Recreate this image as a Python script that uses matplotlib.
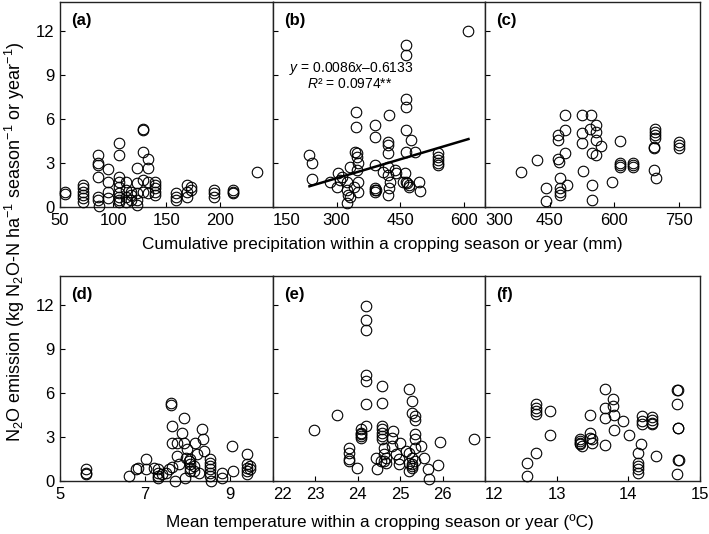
import matplotlib
matplotlib.use("Agg")
import matplotlib.pyplot as plt
import numpy as np

plt.rcParams['font.family'] = ['Liberation Sans', 'DejaVu Sans']
plt.rcParams['mathtext.fontset'] = 'custom'
plt.rcParams['mathtext.rm'] = 'Liberation Sans'
plt.rcParams['mathtext.it'] = 'Liberation Sans:italic'
plt.rcParams['mathtext.bf'] = 'Liberation Sans:bold'

# ---------------- data (x, N2O emission) ----------------
panel_a = [(55, 1.05), (55, 0.9), (72, 1.5), (72, 1.27), (72, 1.05), (72, 0.82), (72, 0.6), (72, 0.36),
           (86, 3.55), (86, 2.98), (86, 2.86), (86, 2.07), (86, 0.7), (86, 0.48), (87, 0.05),
           (95, 2.6), (95, 1.73), (95, 1.05), (95, 0.6),
           (105, 4.34), (105, 3.55), (105, 2.07), (105, 1.73), (105, 1.39), (105, 0.93), (105, 0.7), (105, 0.48), (105, 0.36),
           (112, 1.73), (112, 1.16), (112, 0.7), (112, 0.36), (117, 1.05), (117, 0.82), (117, 0.48),
           (122, 2.64), (122, 1.61), (122, 0.93), (122, 0.48), (122, 0.14),
           (128, 5.36), (128, 5.25), (128, 3.77), (128, 1.84), (128, 1.05),
           (133, 3.3), (133, 2.64), (133, 1.73), (133, 0.93),
           (139, 1.73), (139, 1.5), (139, 1.27), (139, 1.05), (139, 0.82),
           (159, 0.93), (159, 0.7), (159, 0.48), (169, 1.5), (169, 1.05), (169, 0.7), (173, 1.39), (173, 1.16),
           (195, 1.16), (195, 0.93), (195, 0.7), (212, 1.16), (212, 1.05), (212, 0.93), (235, 2.4)]

panel_b = [(236, 3.55), (241, 2.98), (241, 1.89), (284, 1.73), (304, 2.3), (308, 1.84), (300, 1.39), (312, 2.07),
           (324, 1.73), (324, 1.16), (328, 0.82), (332, 0.7), (325, 0.3), (332, 2.75), (346, 6.5), (346, 5.48),
           (343, 3.77), (347, 3.66), (349, 3.43), (351, 2.98), (347, 2.52), (351, 1.73), (351, 1.05), (340, 1.39),
           (391, 5.59), (391, 4.8), (391, 2.86), (391, 1.27), (391, 1.16), (391, 1.05), (394, 1.16),
           (424, 6.27), (422, 4.45), (422, 4.23), (422, 3.66), (422, 2.75), (422, 2.18), (426, 1.73), (424, 1.27),
           (422, 0.82), (438, 2.52), (441, 2.3), (463, 11.05), (463, 10.36), (463, 7.4), (463, 6.84), (463, 5.25),
           (463, 3.77), (461, 2.3), (463, 1.73), (467, 1.61), (471, 1.5), (471, 1.39), (475, 4.57), (486, 3.77),
           (495, 1.73), (497, 1.11), (540, 3.66), (540, 3.43), (540, 3.2), (540, 2.98), (540, 2.86), (611, 12.0),
           (457, 1.73), (410, 2.41)]

panel_c = [(384, 2.41), (420, 3.2), (442, 1.27), (442, 0.43), (470, 4.9), (470, 4.57), (470, 3.25), (471, 3.09),
           (475, 1.95), (475, 1.27), (475, 1.05), (475, 0.82), (487, 6.27), (487, 5.25), (487, 3.66), (491, 1.5),
           (526, 6.27), (526, 5.02), (526, 4.34), (528, 2.48), (546, 6.27), (544, 5.36), (548, 3.66), (548, 1.5),
           (548, 0.48), (558, 5.59), (559, 5.14), (559, 4.57), (559, 3.55), (569, 4.18), (595, 1.73),
           (614, 4.5), (614, 2.98), (614, 2.86), (614, 2.75), (645, 2.98), (645, 2.86), (645, 2.75),
           (696, 5.36), (696, 5.14), (696, 4.9), (696, 4.68), (692, 4.11), (692, 4.0), (692, 2.52), (698, 1.95),
           (751, 4.45), (751, 4.23), (751, 4.0)]

panel_d = [(5.62, 0.8), (5.62, 0.57), (5.62, 0.45), (6.63, 0.34), (6.78, 0.8), (6.82, 0.91), (7.02, 1.48),
           (7.03, 0.8), (7.2, 0.9), (7.29, 0.8), (7.29, 0.57), (7.29, 0.34), (7.29, 0.23), (7.4, 0.45), (7.48, 0.57),
           (7.56, 0.8), (7.6, 5.34), (7.6, 5.18), (7.62, 3.75), (7.64, 2.61), (7.64, 0.95), (7.7, 0.0),
           (7.75, 2.61), (7.75, 1.7), (7.79, 1.14), (7.87, 3.3), (7.9, 4.32), (7.9, 2.61), (7.93, 0.23),
           (7.95, 1.59), (7.98, 2.16), (8.02, 1.36), (8.06, 1.48), (8.06, 1.14), (8.06, 0.91), (8.06, 0.68),
           (8.14, 1.02), (8.14, 0.68), (8.18, 2.61), (8.22, 1.82), (8.26, 0.57), (8.33, 3.52), (8.35, 2.84),
           (8.37, 2.05), (8.53, 1.48), (8.53, 1.25), (8.53, 1.02), (8.53, 0.8), (8.53, 0.57), (8.53, 0.34),
           (8.55, 0.0), (8.8, 0.57), (8.8, 0.23), (9.03, 2.39), (9.07, 0.68), (9.38, 1.82), (9.38, 1.14),
           (9.38, 0.91), (9.38, 0.68), (9.38, 0.45), (9.46, 1.02), (9.46, 0.8)]

panel_e = [(22.96, 3.48), (23.52, 4.48), (23.8, 2.27), (23.8, 1.93), (23.8, 1.48), (23.8, 1.36), (23.99, 0.86),
           (24.07, 3.52), (24.07, 3.3), (24.07, 3.18), (24.07, 3.07), (24.07, 2.95), (24.19, 11.93), (24.19, 11.02),
           (24.19, 10.34), (24.19, 7.27), (24.19, 6.82), (24.19, 5.23), (24.2, 3.75), (24.42, 1.59), (24.45, 0.8),
           (24.54, 1.36), (24.57, 6.48), (24.57, 5.34), (24.57, 3.75), (24.57, 3.52), (24.57, 3.3), (24.57, 3.07),
           (24.57, 2.84), (24.62, 2.27), (24.62, 1.82), (24.62, 1.36), (24.66, 1.59), (24.66, 1.25), (24.83, 3.41),
           (24.81, 2.95), (24.81, 2.39), (24.89, 1.82), (24.97, 1.48), (24.97, 1.14), (25.0, 2.61), (25.13, 2.05),
           (25.2, 6.25), (25.28, 5.45), (25.28, 4.66), (25.34, 4.43), (25.34, 4.2), (25.36, 3.18), (25.36, 2.84),
           (25.2, 1.93), (25.2, 1.25), (25.2, 0.68), (25.28, 1.59), (25.28, 1.14), (25.28, 1.02), (25.28, 0.91),
           (25.36, 2.27), (25.36, 1.36), (25.48, 2.39), (25.55, 1.59), (25.66, 0.8), (25.69, 0.16), (25.9, 1.07),
           (25.95, 2.66), (26.73, 2.89)]

panel_f = [(12.59, 1.25), (12.59, 0.34), (12.71, 1.89), (12.71, 5.23), (12.71, 5.0), (12.71, 4.77), (12.71, 4.55),
           (12.9, 4.77), (12.9, 3.11), (13.33, 2.84), (13.33, 2.73), (13.33, 2.61), (13.33, 2.5), (13.36, 2.39),
           (13.47, 4.5), (13.47, 3.3), (13.47, 2.95), (13.49, 2.84), (13.49, 2.61), (13.68, 6.25), (13.68, 5.0),
           (13.68, 4.32), (13.68, 2.43), (13.79, 5.57), (13.79, 5.11), (13.8, 4.48), (13.8, 3.45), (13.93, 4.09),
           (14.01, 3.11), (14.13, 1.89), (14.13, 1.25), (14.13, 1.02), (14.13, 0.8), (14.13, 0.57), (14.18, 2.5),
           (14.19, 4.43), (14.19, 4.09), (14.19, 3.91), (14.33, 4.39), (14.33, 4.2), (14.33, 3.98), (14.33, 3.86),
           (14.38, 1.7), (14.68, 6.2), (14.7, 6.2), (14.68, 5.23), (14.69, 3.64), (14.7, 3.64), (14.69, 1.43),
           (14.71, 1.43), (14.68, 0.45)]

labels = ['(a)', '(b)', '(c)', '(d)', '(e)', '(f)']
xlims = [(50, 250), (150, 650), (300, 800), (5, 10), (22, 27), (12, 15)]
xticks = [[50, 100, 150, 200], [150, 300, 450, 600], [300, 450, 600, 750],
          [5, 7, 9], [22, 23, 24, 25, 26], [12, 13, 14, 15]]
yticks = [0, 3, 6, 9, 12]
slope_b, intercept_b = 0.0086, -0.6133
eq_text = '$y$ = 0.0086$x$\u20130.6133'
r2_text = '$R$\u00b2 = 0.0974**'
xlabel_top = 'Cumulative precipitation within a cropping season or year (mm)'
xlabel_bot = 'Mean temperature within a cropping season or year (\u00baC)'
ylabel = 'N$_2$O emission (kg N$_2$O-N ha$^{-1}$ season$^{-1}$ or year$^{-1}$)'

W, H = 709, 534
fig = plt.figure(figsize=(W / 100, H / 100), dpi=100)

cols = [(60, 273), (273, 485), (485, 700)]
rows = [(2, 207), (276, 481)]
datasets = [panel_a, panel_b, panel_c, panel_d, panel_e, panel_f]

axes = []
for i in range(6):
    r, c = divmod(i, 3)
    x0, x1 = cols[c]
    y0, y1 = rows[r]
    ax = fig.add_axes([x0 / W, 1 - y1 / H, (x1 - x0) / W, (y1 - y0) / H])
    axes.append(ax)
    pts = np.array(datasets[i])
    ax.plot(pts[:, 0], pts[:, 1], 'o', mfc='none', mec='black', ms=7.6, mew=0.8, clip_on=False, zorder=3)
    ax.set_xlim(*xlims[i])
    ax.set_ylim(0, 14)
    ax.set_xticks(xticks[i])
    ax.set_yticks(yticks)
    ax.tick_params(direction='in', length=3.5, width=0.8, labelsize=12, pad=4, colors='black')
    if c != 0:
        ax.set_yticklabels([])
        ax.get_xticklabels()[0].set_horizontalalignment('left')
    for s in ax.spines.values():
        s.set_linewidth(1.0)
        s.set_color('#222222')
    ax.annotate(labels[i], xy=(0, 1), xycoords='axes fraction', xytext=(11, -11),
                textcoords='offset pixels', ha='left', va='top', fontsize=12, fontweight='bold')

# regression line in panel b
bx = np.array([p[0] for p in panel_b])
lx = np.array([bx.min(), bx.max()])
axes[1].plot(lx, slope_b * lx + intercept_b, color='black', lw=1.8, zorder=4)
axes[1].text(0.37, 0.678, eq_text, transform=axes[1].transAxes, ha='center', va='center', fontsize=10)
axes[1].text(0.36, 0.602, r2_text, transform=axes[1].transAxes, ha='center', va='center', fontsize=10)

fig.text(382 / W, 1 - 245 / H, xlabel_top, ha='center', va='center', fontsize=12.3)
fig.text(380 / W, 1 - 522 / H, xlabel_bot, ha='center', va='center', fontsize=12.3)
fig.text(15 / W, 1 - 242 / H, ylabel, ha='center', va='center', rotation=90, fontsize=13)

fig.savefig('out.png', dpi=100)
